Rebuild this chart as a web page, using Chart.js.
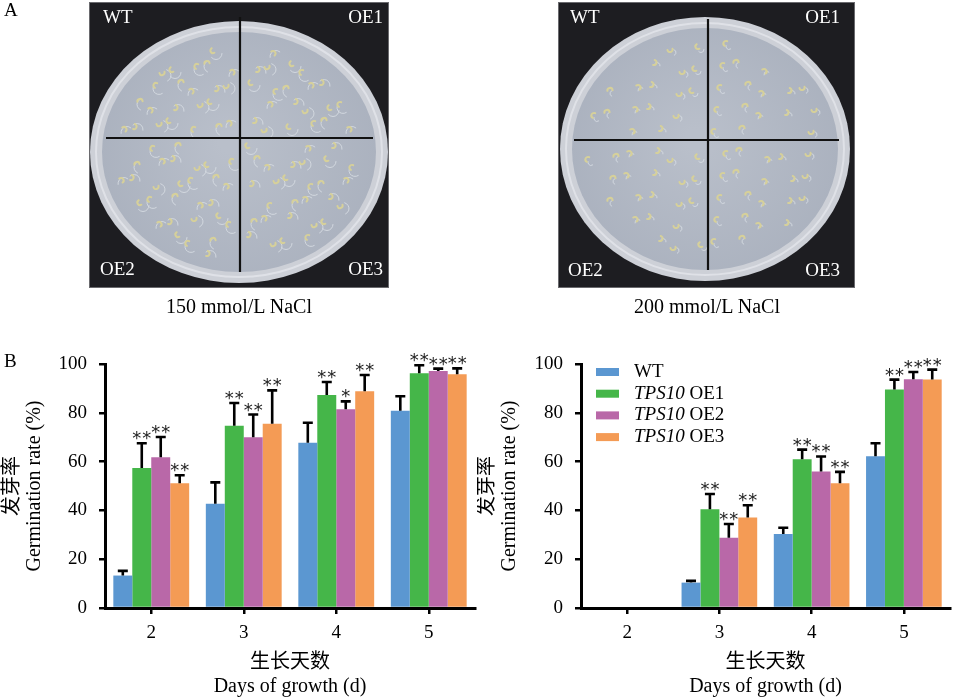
<!DOCTYPE html>
<html lang="zh">
<head>
<meta charset="UTF-8" />
<title>TPS10 germination under NaCl</title>
<script src="https://cdn.jsdelivr.net/npm/chart.js@4.4.1/dist/chart.umd.min.js"></script>
<style>
  body { margin: 0; background: #fff; }
  #page { position: relative; width: 954px; height: 700px; overflow: hidden;
          font-family: "Liberation Serif", "Noto Sans CJK SC", serif; color: #000; }
  .abs { position: absolute; white-space: nowrap; line-height: 1; }
  .panel { font-size: 19px; }
  .plabel { color: #fff; font-size: 19px; }
  .cap { font-size: 20px; transform: translateX(-50%); }
  canvas { position: absolute; }
</style>
</head>
<body>
<div id="page">
  <canvas id="plates" width="954" height="330" style="left:0;top:0"></canvas>
  <div class="abs panel" style="left:4px;top:0px">A</div>
  <div class="abs panel" style="left:4px;top:351px">B</div>

  <div class="abs plabel" style="left:103px;top:7px">WT</div>
  <div class="abs plabel" style="right:571px;top:7px">OE1</div>
  <div class="abs plabel" style="left:100px;top:259px">OE2</div>
  <div class="abs plabel" style="right:571px;top:259px">OE3</div>
  <div class="abs cap" style="left:239px;top:296px">150 mmol/L NaCl</div>

  <div class="abs plabel" style="left:570px;top:7px">WT</div>
  <div class="abs plabel" style="right:114px;top:7px">OE1</div>
  <div class="abs plabel" style="left:568px;top:260px">OE2</div>
  <div class="abs plabel" style="right:114px;top:260px">OE3</div>
  <div class="abs cap" style="left:707px;top:296px">200 mmol/L NaCl</div>

  <canvas id="chart150" width="477" height="360" style="left:0;top:340px"></canvas>
  <canvas id="chart200" width="477" height="360" style="left:477px;top:340px"></canvas>
</div>
<script>
  // categories and series
  const days = ["2", "3", "4", "5"]
  const seriesNames = ["WT", "OE1", "OE2", "OE3"]
  const seriesItalic = ["", "TPS10", "TPS10", "TPS10"]
  const colors = ["#5b97d1", "#45b649", "#b968a8", "#f49b55"]
  const yTicks = [0, 20, 40, 60, 80, 100]

  // 150 mmol/L NaCl: germination rate (%), SD, significance
  const wt150 = [13.3, 42.7, 67.7, 80.8]
  const oe1_150 = [57.4, 74.7, 87.3, 96.2]
  const oe2_150 = [61.8, 70.0, 81.5, 97.1]
  const oe3_150 = [51.1, 75.5, 88.8, 95.8]
  const wt150Sd = [1.9, 8.8, 8.2, 6.0]
  const oe1_150Sd = [10.1, 9.3, 5.3, 3.3]
  const oe2_150Sd = [8.3, 9.3, 3.2, 1.0]
  const oe3_150Sd = [3.3, 13.7, 6.7, 2.4]
  const wt150Sig = ["", "", "", ""]
  const oe1_150Sig = ["**", "**", "**", "**"]
  const oe2_150Sig = ["**", "**", "*", "**"]
  const oe3_150Sig = ["**", "**", "**", "**"]

  // 200 mmol/L NaCl
  const wt200 = [0, 10.4, 30.3, 62.2]
  const oe1_200 = [0, 40.5, 61.0, 89.6]
  const oe2_200 = [0, 28.8, 55.9, 93.7]
  const oe3_200 = [0, 37.1, 51.1, 93.6]
  const wt200Sd = [null, 0.7, 2.6, 5.3]
  const oe1_200Sd = [null, 6.2, 3.9, 4.0]
  const oe2_200Sd = [null, 5.6, 6.2, 3.0]
  const oe3_200Sd = [null, 5.0, 4.7, 4.1]
  const wt200Sig = ["", "", "", ""]
  const oe1_200Sig = ["", "**", "**", "**"]
  const oe2_200Sig = ["", "**", "**", "**"]
  const oe3_200Sig = ["", "**", "**", "**"]

  const serif = "'Liberation Serif', 'Noto Sans CJK SC', serif"

  // ---- plate photos (simple drawing) ----
  function drawPlate(ctx, p) {
    ctx.fillStyle = "#1d1d21"
    ctx.fillRect(p.x, p.y, p.w, p.h)
    ctx.strokeStyle = "#6a6a6e"
    ctx.lineWidth = 1
    ctx.strokeRect(p.x + 0.5, p.y + 0.5, p.w - 1, p.h - 1)

    ctx.beginPath()
    ctx.ellipse(p.cx, p.cy, p.rx, p.ry, 0, 0, Math.PI * 2)
    ctx.fillStyle = "#cdd0d7"
    ctx.fill()
    const g = ctx.createRadialGradient(p.cx - 10, p.cy - 10, 10, p.cx, p.cy, p.rx)
    g.addColorStop(0, "#b9bfca")
    g.addColorStop(1, "#aab1be")
    ctx.beginPath()
    ctx.ellipse(p.cx, p.cy, p.rx - 12, p.ry - 11, 0, 0, Math.PI * 2)
    ctx.fillStyle = g
    ctx.fill()
    ctx.strokeStyle = "rgba(235,237,241,0.6)"
    ctx.lineWidth = 2
    ctx.beginPath()
    ctx.ellipse(p.cx, p.cy, p.rx - 6, p.ry - 6, 0, 0, Math.PI * 2)
    ctx.stroke()

    // seedlings
    ctx.lineCap = "round"
    let k = 0
    for (let gy = p.cy - p.ry + 28; gy < p.cy + p.ry - 18; gy += p.step) {
      for (let gx = p.cx - p.rx + 28; gx < p.cx + p.rx - 18; gx += p.step) {
        k++
        const ox = ((k * 7) % 5 - 2) * 3
        const oy = ((k * 3) % 4 - 1.5) * 3
        const x = gx + ox, y = gy + oy
        const dx = (x - p.cx) / (p.rx - 26), dy = (y - p.cy) / (p.ry - 24)
        if (dx * dx + dy * dy > 1) continue
        if (Math.abs(x - p.vx) < 6 || Math.abs(y - p.hy) < 6) continue
        const a = (k % 6)
        ctx.strokeStyle = "rgba(214,219,226,0.9)"
        ctx.lineWidth = 1
        ctx.beginPath()
        ctx.arc(x + 3, y + 3, p.tail, a, a + 2.4)
        ctx.stroke()
        ctx.strokeStyle = "#d6d09a"
        ctx.lineWidth = 2
        ctx.beginPath()
        ctx.arc(x, y, 2.6, a + 1, a + 4.2)
        ctx.stroke()
      }
    }

    ctx.strokeStyle = "#111"
    ctx.lineWidth = 2.2
    ctx.lineCap = "butt"
    ctx.beginPath()
    ctx.moveTo(p.vx, p.v0); ctx.lineTo(p.vx, p.v1)
    ctx.moveTo(p.h0, p.hy); ctx.lineTo(p.h1, p.hy)
    ctx.stroke()
  }

  const pctx = document.getElementById("plates").getContext("2d")
  drawPlate(pctx, { x: 89, y: 2, w: 300, h: 286, cx: 239, cy: 152, rx: 149, ry: 131,
    vx: 240, v0: 17, v1: 272, hy: 138, h0: 106, h1: 373, step: 19, tail: 6 })
  drawPlate(pctx, { x: 558, y: 2, w: 297, h: 286, cx: 705, cy: 149, rx: 145, ry: 132,
    vx: 708, v0: 19, v1: 270, hy: 140, h0: 574, h1: 839, step: 22, tail: 3 })

  // ---- chart plugins ----
  const errorBarPlugin = {
    id: "errorBars",
    afterDatasetsDraw(chart) {
      const ctx = chart.ctx
      const y = chart.scales.y
      ctx.save()
      chart.data.datasets.forEach((ds, i) => {
        chart.getDatasetMeta(i).data.forEach((bar, j) => {
          const sd = ds.sd[j]
          if (sd == null) return
          const top = y.getPixelForValue(ds.data[j] + sd)
          ctx.strokeStyle = "#000"
          ctx.lineWidth = 2.6
          ctx.beginPath()
          ctx.moveTo(bar.x, bar.y)
          ctx.lineTo(bar.x, top)
          ctx.moveTo(bar.x - 5, top)
          ctx.lineTo(bar.x + 5, top)
          ctx.stroke()
          const sig = ds.sig[j]
          if (!sig) return
          ctx.fillStyle = "#222"
          ctx.font = "18px 'DejaVu Sans'"
          ctx.textAlign = "center"
          ctx.textBaseline = "alphabetic"
          if (sig.length === 1) {
            ctx.fillText("*", bar.x, top + 1)
          } else {
            ctx.fillText("*", bar.x - 5, top + 1)
            ctx.fillText("*", bar.x + 5, top + 1)
          }
        })
      })
      ctx.restore()
    },
  }

  const legendPlugin = {
    id: "mixedLegend",
    afterDraw(chart, args, opts) {
      if (!opts.show) return
      const ctx = chart.ctx
      ctx.save()
      chart.data.datasets.forEach((ds, i) => {
        const cy = opts.top + i * opts.row
        ctx.fillStyle = ds.backgroundColor
        ctx.fillRect(opts.left, cy - 4, 23, 8)
        ctx.fillStyle = "#000"
        ctx.textBaseline = "middle"
        ctx.textAlign = "left"
        let x = opts.left + 38
        if (seriesItalic[i]) {
          ctx.font = "italic 19px " + serif
          ctx.fillText(seriesItalic[i] + " ", x, cy)
          x += ctx.measureText(seriesItalic[i] + " ").width
        }
        ctx.font = "19px " + serif
        ctx.fillText(seriesNames[i], x, cy)
      })
      ctx.restore()
    },
  }

  function makeChart(id, values, sds, sigs, axisWidth, padRight, showLegend) {
    const datasets = values.map((v, i) => ({
      label: (seriesItalic[i] ? seriesItalic[i] + " " : "") + seriesNames[i],
      data: v,
      sd: sds[i],
      sig: sigs[i],
      backgroundColor: colors[i],
      borderWidth: 0,
      barPercentage: 1.0,
      categoryPercentage: 0.82,
    }))
    const ctx = document.getElementById(id).getContext("2d")
    return new Chart(ctx, {
      type: "bar",
      data: { labels: days, datasets: datasets },
      plugins: [errorBarPlugin, legendPlugin],
      options: {
        responsive: false,
        animation: false,
        layout: { padding: { left: 0, right: padRight, top: 24, bottom: 0 } },
        plugins: {
          legend: { display: false },
          tooltip: { enabled: false },
          mixedLegend: { show: showLegend, left: 119, top: 32, row: 21.7 },
        },
        scales: {
          x: {
            afterFit(scale) { scale.height = 92 },
            grid: { drawOnChartArea: false, drawTicks: true, tickLength: 6, color: "#000", lineWidth: 2.5, offset: false },
            border: { display: true, color: "#000", width: 3 },
            ticks: { color: "#000", padding: 8, font: { family: serif, size: 19 } },
            title: {
              display: true,
              text: ["生长天数", "Days of growth (d)"],
              color: "#000",
              font: { family: serif, size: 20, lineHeight: 1.2 },
              padding: { top: 0, bottom: 1 },
            },
          },
          y: {
            min: 0,
            max: 100,
            afterFit(scale) { scale.width = axisWidth },
            afterBuildTicks(scale) { scale.ticks = yTicks.map(v => ({ value: v })) },
            grid: { drawOnChartArea: false, drawTicks: true, tickLength: 6, color: "#000", lineWidth: 2.5 },
            border: { display: true, color: "#000", width: 3 },
            ticks: { color: "#000", padding: 12, font: { family: serif, size: 19 } },
            title: {
              display: true,
              text: ["发芽率", "Germination rate (%)"],
              color: "#000",
              font: { family: serif, size: 20, lineHeight: 1.1 },
              padding: { top: axisWidth === 105 ? 2 : 0, bottom: 0 },
            },
          },
        },
      },
    })
  }

  makeChart("chart150",
    [wt150, oe1_150, oe2_150, oe3_150],
    [wt150Sd, oe1_150Sd, oe2_150Sd, oe3_150Sd],
    [wt150Sig, oe1_150Sig, oe2_150Sig, oe3_150Sig],
    105, 2, false)

  makeChart("chart200",
    [wt200, oe1_200, oe2_200, oe3_200],
    [wt200Sd, oe1_200Sd, oe2_200Sd, oe3_200Sd],
    [wt200Sig, oe1_200Sig, oe2_200Sig, oe3_200Sig],
    104, 4, true)
</script>
</body>
</html>
